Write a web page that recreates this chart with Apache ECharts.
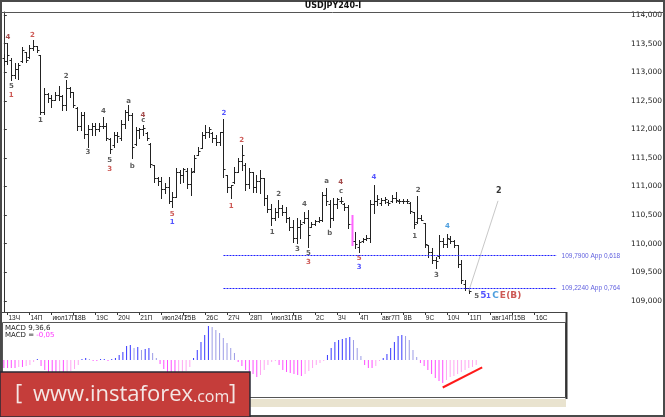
<!DOCTYPE html>
<html><head><meta charset="utf-8">
<script src="https://cdn.jsdelivr.net/npm/echarts@6/dist/echarts.min.js"></script>
<style>html,body{margin:0;padding:0;background:#fff}#c{width:665px;height:417px}</style>
</head><body><div id="c"></div>
<script>
// ---------------- data ----------------
const opens = [113.25,113.20,113.22,112.95,113.05,113.20,113.35,113.27,113.42,113.45,
113.30,112.30,112.62,112.55,112.52,112.60,112.58,112.42,112.72,112.65,
112.38,112.05,112.25,111.92,112.00,112.05,112.00,112.05,112.05,111.83,
111.72,111.90,111.85,112.10,112.30,112.25,111.75,111.98,112.00,111.93,
111.74,111.38,111.15,111.10,110.95,111.00,110.75,110.82,111.25,111.20,
111.28,111.05,111.28,111.55,111.68,111.90,111.95,111.93,111.85,111.78,
111.95,111.20,111.00,111.08,111.25,111.45,111.38,111.05,111.25,111.00,
111.10,111.15,110.80,110.60,110.45,110.55,110.62,110.55,110.45,110.30,
110.10,110.30,110.38,110.45,110.30,110.35,110.40,110.42,110.85,110.70,
110.45,110.70,110.75,110.70,110.65,110.35,110.05,109.95,110.05,110.08,
110.10,110.70,110.75,110.72,110.76,110.73,110.75,110.80,110.75,110.74,
110.75,110.72,110.55,110.38,110.45,110.36,109.98,109.85,109.72,109.78,
110.05,110.00,110.08,110.05,109.98,109.65,109.30,109.22];
const highs = [113.32,113.51,113.25,113.16,113.16,113.44,113.35,113.48,113.56,113.46,
113.30,112.72,112.64,112.60,112.65,112.76,112.60,112.86,112.74,112.65,
112.39,112.30,112.30,112.08,112.11,112.11,112.11,112.22,112.11,111.85,
111.95,111.95,112.16,112.34,112.43,112.29,112.04,112.02,112.08,111.95,
111.76,111.38,111.17,111.17,111.06,111.17,110.90,111.32,111.29,111.32,
111.32,111.32,111.55,111.69,111.95,112.08,112.04,111.95,111.90,111.95,
112.18,111.20,111.03,111.34,111.50,111.73,111.41,111.32,111.25,111.20,
111.29,111.15,110.85,110.69,110.62,110.76,110.68,110.64,110.47,110.41,
110.45,110.41,110.55,110.59,110.38,110.41,110.47,110.90,110.97,110.76,
110.80,110.80,110.82,110.71,110.68,110.50,110.20,110.06,110.10,110.15,
110.76,111.03,110.85,110.80,110.82,110.76,110.85,110.90,110.78,110.78,
110.78,110.73,110.55,110.83,110.50,110.36,109.98,109.93,109.77,110.15,
110.10,110.17,110.13,110.06,109.98,109.71,109.36,109.23];
const lows = [113.13,113.14,112.86,112.90,112.88,113.18,113.18,113.25,113.39,113.35,
112.27,112.27,112.48,112.39,112.51,112.51,112.34,112.34,112.57,112.39,
111.99,111.99,111.85,111.69,111.90,111.90,111.97,112.02,111.81,111.59,
111.69,111.78,111.81,112.02,112.16,111.50,111.73,111.85,111.90,111.81,
111.34,111.08,111.03,110.80,110.89,110.71,110.64,110.82,111.06,111.08,
110.97,110.85,111.25,111.55,111.67,111.85,111.87,111.78,111.73,111.73,
111.17,110.90,110.80,111.06,111.25,111.29,110.94,110.97,110.90,110.90,
110.89,110.68,110.55,110.33,110.41,110.47,110.50,110.38,110.24,110.03,
110.01,110.10,110.36,109.94,110.29,110.33,110.38,110.40,110.68,110.29,
110.41,110.62,110.71,110.59,110.27,109.98,109.92,109.85,110.03,110.06,
110.03,110.54,110.68,110.68,110.71,110.68,110.73,110.73,110.71,110.71,
110.71,110.54,110.27,110.36,110.41,109.94,109.77,109.66,109.58,109.75,
109.94,109.94,110.01,109.94,109.59,109.31,109.19,109.14];
const closes = [113.20,113.30,112.95,113.05,113.12,113.38,113.22,113.42,113.45,113.38,
112.30,112.62,112.55,112.52,112.60,112.58,112.42,112.72,112.65,112.42,
112.05,112.25,111.92,112.00,112.05,112.00,112.05,112.05,111.85,111.65,
111.90,111.88,112.10,112.30,112.25,111.70,111.98,112.00,112.02,111.85,
111.40,111.15,111.10,110.95,111.00,110.75,110.82,111.25,111.20,111.30,
111.05,111.25,111.50,111.62,111.90,111.95,112.00,111.85,111.78,111.95,
111.30,111.00,111.02,111.25,111.45,111.55,111.05,111.25,111.00,111.10,
111.15,110.80,110.60,110.45,110.55,110.62,110.55,110.45,110.30,110.10,
110.30,110.35,110.45,110.15,110.35,110.40,110.42,110.85,110.75,110.45,
110.70,110.78,110.75,110.65,110.35,110.05,110.00,110.03,110.08,110.10,
110.70,110.75,110.78,110.76,110.78,110.72,110.80,110.76,110.74,110.75,
110.74,110.58,110.35,110.45,110.42,110.00,109.85,109.72,109.70,110.05,
110.00,110.10,110.05,109.98,109.65,109.36,109.22,109.168];
const macd = [-0.08,-0.08,-0.08,-0.08,-0.07,-0.07,-0.06,-0.05,-0.02,0.01,
-0.06,-0.10,-0.12,-0.13,-0.14,-0.13,-0.13,-0.12,-0.11,-0.09,-0.05,
0.01,0.02,0.01,-0.01,-0.01,0.01,0.01,-0.01,0.01,
0.02,0.05,0.08,0.14,0.15,0.12,0.13,0.10,0.11,0.12,0.07,0.02,
-0.04,-0.09,-0.12,-0.14,-0.15,-0.14,-0.13,-0.11,-0.07,
0.02,0.10,0.18,0.25,0.34,0.33,0.30,0.27,0.22,0.17,0.12,0.07,
-0.02,-0.06,-0.10,-0.12,-0.14,-0.17,-0.15,-0.10,-0.05,-0.02,-0.01,
-0.05,-0.10,-0.12,-0.13,-0.14,-0.15,-0.16,-0.14,-0.11,-0.08,-0.05,-0.03,-0.01,
0.05,0.12,0.18,0.20,0.21,0.22,0.23,0.20,0.12,
0.04,-0.05,-0.08,-0.08,-0.06,-0.01,
0.02,0.06,0.12,0.18,0.24,0.25,0.24,0.20,0.10,0.03,
-0.03,-0.06,-0.10,-0.14,-0.18,-0.21,-0.23,-0.20,-0.17,-0.16,-0.14,-0.12,-0.10,-0.08,-0.07,-0.05];
const highlightBar = 95;
const dayLabels = ['13Ч','14П','июл17П','18В','19С','20Ч','21П','июл24П','25В','26С','27Ч','28П','июл31П','1В','2С','3Ч','4П','авг7П','8В','9С','10Ч','11П','авг14П','15В','16С'];
const priceTicks = [109,109.5,110,110.5,111,111.5,112,112.5,113,113.5,114];
const lastPrice = 109.168;
const fibLevels = [109.79, 109.224];
const fibTexts = ['109,7900 App 0,618', '109,2240 App 0,764'];
const fibStart = 60, fibEnd = 151;
// wave labels: [bar index, price, text, colour key]
const waveLabels = [
 [1.1,113.615,'4','m'],[7.8,113.65,'2','r'],[2.1,112.763,'5','k'],[2.0,112.589,'1','r'],
 [10.0,112.152,'1','k'],[17.0,112.938,'2','k'],[27.2,112.309,'4','k'],[34.1,112.496,'a','k'],
 [38.0,112.251,'4','m'],[38.1,112.152,'c','k'],[23.0,111.599,'3','k'],[28.9,111.452,'5','k'],
 [28.9,111.301,'3','r'],[35.1,111.364,'b','k'],[46.0,110.52,'5','r'],[46.0,110.368,'1','b'],
 [60.1,112.281,'2','b'],[65.0,111.802,'2','r'],[62.1,110.648,'1','r'],[75.1,110.864,'2','k'],
 [73.3,110.21,'1','k'],[82.1,110.695,'4','k'],[80.2,109.908,'3','k'],[83.2,109.843,'5','k'],
 [83.2,109.675,'3','r'],[88.2,111.097,'a','k'],[92.0,111.079,'4','m'],[92.1,110.927,'c','k'],
 [89.0,110.182,'b','k'],[97.1,109.75,'5','r'],[97.1,109.593,'3','b'],[101.1,111.172,'4','b'],
 [113.2,110.94,'2','k'],[112.2,110.13,'1','k'],[121.2,110.298,'4','t'],[118.2,109.441,'3','k'],
 [129.2,109.086,'5','k']
];
const endLabels = [[131.0,109.086,'5','b'],[132.4,109.075,'1','b'],[134.3,109.086,'C','t'],[136.3,109.086,'E','r'],[139.3,109.086,'(B)','r']];
const targetLabel = [135.2,110.917,'2'];
const projection = [[127,109.17],[135,110.75]];
const macdTrend = [[118,-0.275],[128.6,-0.073]];

// ---------------- chart ----------------
const N = 171;
const cats = Array.from({length:N},(_,i)=>i);
const colorMap = {k:'#333333', m:'#8b1a1a', r:'#c0302a', b:'#2b2bff', t:'#1f86d6'};
function dayOf(idx){ if(idx<1||(idx-1)%6) return -1; const d=(idx-1)/6; return d<dayLabels.length?d:-1; }
const ohlc = opens.map((o,i)=>[i,o,highs[i],lows[i],closes[i]]);
const macdData = macd.map((v,i)=>{
  const p = i>0?macd[i-1]:v; let c;
  if(v>=0) c = v>=p?'#3737ff':'#9c9ce6'; else c = v<=p?'#ff4dff':'#ffa6f2';
  return {value:v, itemStyle:{color:c}};
});
const fmtP = v=>v.toFixed(3).replace('.',',');
const lblData = waveLabels.map(w=>({value:[w[0],w[1]],label:{formatter:w[2],color:colorMap[w[3]]}}))
 .concat(endLabels.map((w,k)=>({value:[w[0],w[1]],label:{formatter:w[2],color:colorMap[w[3]],fontSize:k===1?7:9}})))
 .concat([{value:[targetLabel[0],targetLabel[1]],label:{formatter:targetLabel[2],color:'#000',fontSize:8}}]);
const fibLabelData = fibLevels.map((v,k)=>({value:[fibEnd,v],label:{formatter:fibTexts[k]}}));

const chart = echarts.init(document.getElementById('c'),null,{renderer:'canvas'});
const font = 'DejaVu Sans';
const lfont = 'Liberation Sans';
chart.setOption({
  animation:false,
  backgroundColor:'#ffffff',
  textStyle:{fontFamily:font},
  grid:[{left:2,right:27,top:12,bottom:105},{left:2,right:27,top:322,height:75}],
  xAxis:[
    {type:'category',gridIndex:0,data:cats,boundaryGap:true,
     axisLine:{show:false},
     axisTick:{show:true,interval:(i)=>dayOf(i)>=0,alignWithLabel:true,length:3,lineStyle:{color:'#333'}},
     axisLabel:{interval:(i)=>dayOf(i)>=0,formatter:(v,i)=>dayLabels[dayOf(i)]||'',align:'left',padding:[0,0,0,1],fontSize:6.5,color:'#222',margin:3,fontFamily:lfont},
     splitLine:{show:false}},
    {type:'category',gridIndex:1,data:cats,show:false},
    {type:'value',gridIndex:0,min:-0.5,max:N-0.5,show:false},
    {type:'value',gridIndex:1,min:-0.5,max:N-0.5,show:false}
  ],
  yAxis:[
    {type:'value',gridIndex:0,position:'right',min:108.806,max:114.052,
     axisLine:{show:true,lineStyle:{color:'#333'}},
     axisTick:{show:true,length:3,customValues:priceTicks,lineStyle:{color:'#333'}},
     axisLabel:{customValues:priceTicks,formatter:fmtP,fontSize:7.5,margin:3,color:'#222',fontFamily:font},
     splitLine:{show:false}},
    {type:'value',gridIndex:1,min:-0.37,max:0.38,show:false}
  ],
  series:[
    {type:'custom',xAxisIndex:2,yAxisIndex:0,data:ohlc,encode:{x:0,y:[2,3]},
     renderItem:(params,api)=>{
       const i=api.value(0);
       const ph=api.coord([i,api.value(2)]), pl=api.coord([i,api.value(3)]);
       const yo=Math.round(api.coord([i,api.value(1)])[1])+0.5, yc=Math.round(api.coord([i,api.value(4)])[1])+0.5;
       const x=Math.round(ph[0])+0.5;
       const hl = i===highlightBar;
       const col = hl?'#ff66ff':'#222222';
       return {type:'group',children:[
         {type:'line',shape:{x1:x,y1:Math.round(ph[1]),x2:x,y2:Math.round(pl[1])+1},style:{stroke:col,lineWidth:hl?2:1}},
         {type:'line',shape:{x1:x-2,y1:yo,x2:x,y2:yo},style:{stroke:col,lineWidth:1}},
         {type:'line',shape:{x1:x,y1:yc,x2:x+2,y2:yc},style:{stroke:col,lineWidth:1}}
       ]};
     }},
    {type:'line',xAxisIndex:2,yAxisIndex:0,data:projection,symbol:'none',
     lineStyle:{color:'#c8c8c8',width:1},silent:true},
    {type:'scatter',xAxisIndex:2,yAxisIndex:0,data:fibLabelData,symbolSize:0,silent:true,
     label:{show:true,position:'right',distance:5,color:'#3434d6',fontSize:6.5,fontFamily:lfont}},
    {type:'scatter',xAxisIndex:2,yAxisIndex:0,data:lblData,symbolSize:0,silent:true,
     label:{show:true,position:'inside',fontSize:7,fontWeight:'bold',fontFamily:font},
     markLine:{silent:true,symbol:['none','none'],
       lineStyle:{color:'#1e1eff',type:[2,1],width:1,opacity:1},
       label:{show:false},
       emphasis:{disabled:true},
       data:[
         [{coord:[fibStart,fibLevels[0]]},{coord:[fibEnd,fibLevels[0]]}],
         [{coord:[fibStart,fibLevels[1]]},{coord:[fibEnd,fibLevels[1]]}],
         {yAxis:lastPrice,lineStyle:{opacity:0,width:0},label:{show:true,position:'end',formatter:fmtP(lastPrice),backgroundColor:'#f4f400',color:'#111',fontSize:7.5,padding:[1,3,1,3],distance:1}}
       ]}},
    {type:'bar',xAxisIndex:1,yAxisIndex:1,data:macdData,barWidth:1,silent:true},
    {type:'line',xAxisIndex:3,yAxisIndex:1,data:macdTrend,symbol:'none',lineStyle:{color:'#ff1a1a',width:2},silent:true}
  ],
  graphic:[
    {type:'rect',shape:{x:1,y:1,width:663,height:415},style:{fill:'none',stroke:'#4a4a4a',lineWidth:2},z:50},
    {type:'line',shape:{x1:0,y1:12.5,x2:665,y2:12.5},style:{stroke:'#555',lineWidth:1},z:50},
    {type:'text',x:333,y:6,style:{text:'USDJPY240-I',textAlign:'center',textVerticalAlign:'middle',font:'bold 8px '+font,fill:'#111'},z:50},
    {type:'line',shape:{x1:2,y1:312.5,x2:566,y2:312.5},style:{stroke:'#444',lineWidth:1},z:50},
    {type:'rect',shape:{x:2.5,y:322.5,width:563,height:75},style:{fill:'none',stroke:'#555',lineWidth:1},z:50},
    {type:'line',shape:{x1:566.5,y1:312,x2:566.5,y2:399},style:{stroke:'#333',lineWidth:2},z:50},
    {type:'rect',shape:{x:2,y:399,width:564,height:8},style:{fill:'#e9e3cf'},z:40},
    {type:'text',x:5,y:328,style:{text:'MACD 9,36,6',textVerticalAlign:'middle',font:'7px '+font,fill:'#222'},z:50},
    {type:'text',x:5,y:335,style:{text:'{a|MACD = }{b|-0,05}',textVerticalAlign:'middle',rich:{a:{fontSize:7,fill:'#222',color:'#222',fontFamily:font},b:{fontSize:7,color:'#ff33ff',fill:'#ff33ff',fontFamily:font}}},z:50},
    {type:'rect',shape:{x:0,y:372,width:250,height:45},style:{fill:'#c53d3a',stroke:'#2a2a35',lineWidth:1.5},z:100},
    {type:'text',x:15,y:394,style:{text:'[',textVerticalAlign:'middle',font:'22px "Open Sans"',fill:'#f4e6e4'},z:101},
    {type:'text',x:33,y:395,style:{text:'www.instaforex',textVerticalAlign:'middle',font:'22px "Open Sans"',fill:'#f4e6e4'},z:101},
    {type:'text',x:193,y:397,style:{text:'.com',textVerticalAlign:'middle',font:'16px "Open Sans"',fill:'#f4e6e4'},z:101},
    {type:'text',x:229,y:394,style:{text:']',textVerticalAlign:'middle',font:'22px "Open Sans"',fill:'#f4e6e4'},z:101}
  ]
});
</script></body></html>
